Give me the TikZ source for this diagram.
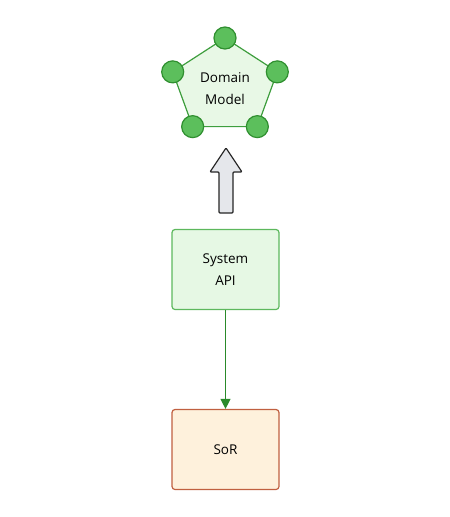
\documentclass[tikz,border=0pt]{standalone}
\usepackage{fontspec}
\setmainfont{Open Sans}
\usetikzlibrary{arrows.meta}

\definecolor{dmfill}{HTML}{E8F8E6}
\definecolor{dmline}{HTML}{3E9E3E}
\definecolor{dotfill}{HTML}{5CBF5C}
\definecolor{dotline}{HTML}{2F8F2F}
\definecolor{apifill}{HTML}{E6F8E4}
\definecolor{apiline}{HTML}{5DB85D}
\definecolor{flowline}{HTML}{2A8A2A}
\definecolor{sorfill}{HTML}{FEF1DC}
\definecolor{sorline}{HTML}{C06040}
\definecolor{upfill}{HTML}{E5E7EB}

\tikzset{
	box/.style={draw, rounded corners=3pt, line width=1.2pt, minimum width=107pt, minimum height=80pt, align=center, font=\fontsize{13.5}{22}\selectfont},
	dot/.style={circle, draw=dotline, fill=dotfill, line width=1.2pt, minimum size=22pt, inner sep=0pt},
	bigarrow/.style={draw=black!85, fill=upfill, line width=1.2pt, rounded corners=1pt}
}

\begin{document}
\begin{tikzpicture}[x=1pt,y=-1pt]
			\useasboundingbox (0,0) rectangle (450,517);
			% domain model pentagon
			\foreach \i/\a in {1/90,2/162,3/234,4/306,5/18}
				\coordinate (v\i) at ({225+55*cos(\a)},{87-49*sin(\a)});
			\draw[draw=dmline, fill=dmfill, line width=1.2pt] (v1) -- (v2) -- (v3) -- (v4) -- (v5) -- cycle;
			\foreach \i in {1,...,5}
				\node[dot] (d\i) at (v\i) {};
			\node[align=center, font=\fontsize{13.5}{22}\selectfont] (dm) at (225,89) {Domain\\Model};
			% boxes
			\node[box, draw=apiline, fill=apifill] (api) at (225.5,269.5) {System\\API};
			\node[box, draw=sorline, fill=sorfill] (sor) at (225.5,449.5) {SoR};
			\draw[flowline, line width=1.3pt, -{Triangle[length=10pt,width=10pt]}] (api) -- (sor);
			% hollow up arrow
			\draw[bigarrow] (219,213) -- (219,172) -- (210,172) -- (226,148) -- (242,172) -- (233,172) -- (233,213) -- cycle;
		\end{tikzpicture}
\end{document}
